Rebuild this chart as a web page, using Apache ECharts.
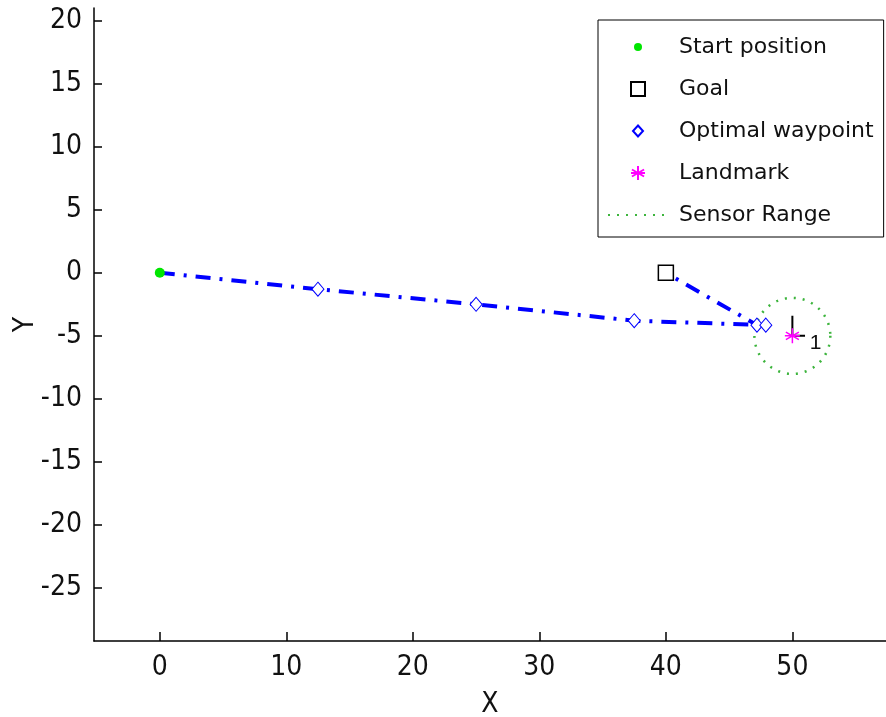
<!DOCTYPE html>
<html>
<head>
<meta charset="utf-8">
<title>Optimal waypoints</title>
<script src="https://cdn.jsdelivr.net/npm/echarts@6/dist/echarts.min.js"></script>
<style>
  html, body { margin: 0; padding: 0; background: #fff; }
  #chart { width: 886px; height: 717px; }
</style>
</head>
<body>
<div id="chart"></div>
<script>
// data
const startPos = [[0, 0]]
const goalPos = [[40, 0]]
const waypoints = [[12.5, -1.3], [25, -2.5], [37.5, -3.8], [47.2, -4.15], [47.9, -4.15]]
const pathPoints = [[0, 0], [12.5, -1.3], [25, -2.5], [37.5, -3.8], [47.9, -4.15], [47.2, -4.15], [40, 0]]
const landmarks = [[50, -5]]
const landmarkIds = ['1']
const landmarkMark = [[50, -3.4], [50, -5], [51, -5]]
const sensorRange = [[50, -5, 3]]
const xTicks = [0, 10, 20, 30, 40, 50]
const yTicks = [-25, -20, -15, -10, -5, 0, 5, 10, 15, 20]

const tickFont = "'Liberation Sans Narrow', 'DejaVu Sans Condensed', sans-serif"
const asterisk = 'path://M0,-10L0,10M-8.66,-5L8.66,5M-8.66,5L8.66,-5M-10,0L10,0'
const square = 'path://M0,0H10V10H0Z'
const diamond = 'path://M6,0L12,7L6,14L0,7Z'
// legend icons get padded so they come out smaller
const startIcon = 'path://M0,0M14,14M11,7A4,4,0,1,1,3,7A4,4,0,1,1,11,7Z'
const diamondIcon = 'path://M0,0M14,14M7,1.5L12,7L7,12.5L2,7Z'

const chart = echarts.init(document.getElementById('chart'))

chart.setOption({
  animation: false,
  grid: { left: 94, top: 8, right: 0, bottom: 76, outerBoundsMode: 'none' },
  legend: {
    data: [
      { name: 'Start position', icon: startIcon },
      { name: 'Goal' },
      { name: 'Optimal waypoint', icon: diamondIcon },
      { name: 'Landmark' },
      { name: 'Sensor Range', itemStyle: { opacity: 0 } }
    ],
    orient: 'vertical',
    left: 598,
    top: 20,
    padding: [16, 10, 11, 9],
    itemWidth: 60,
    itemHeight: 14,
    itemGap: 20,
    borderColor: '#000',
    borderWidth: 1,
    backgroundColor: '#fff',
    selectedMode: false,
    textStyle: {
      fontFamily: 'DejaVu Sans',
      fontSize: 22,
      color: '#111',
      lineHeight: 20,
      padding: [0, 0, 0, 6]
    }
  },
  xAxis: {
    type: 'value',
    min: -5.2,
    max: 57.4,
    name: 'X',
    nameLocation: 'middle',
    nameGap: 50,
    nameMoveOverlap: false,
    nameTextStyle: { fontFamily: tickFont, fontSize: 28, color: '#111' },
    axisLine: { onZero: false, lineStyle: { color: '#000', width: 1.5 } },
    axisTick: { inside: true, length: 9, customValues: xTicks, lineStyle: { color: '#000', width: 1.5 } },
    axisLabel: { customValues: xTicks, margin: 13, fontFamily: tickFont, fontSize: 28, color: '#111' },
    splitLine: { show: false }
  },
  yAxis: {
    type: 'value',
    min: -29.2,
    max: 21,
    name: 'Y',
    nameLocation: 'middle',
    nameGap: 54,
    nameMoveOverlap: false,
    nameTextStyle: { fontFamily: tickFont, fontSize: 28, color: '#111' },
    axisLine: { onZero: false, lineStyle: { color: '#000', width: 1.5 } },
    axisTick: { inside: true, length: 8, customValues: yTicks, lineStyle: { color: '#000', width: 1.5 } },
    axisLabel: { customValues: yTicks, margin: 12, fontFamily: tickFont, fontSize: 28, color: '#111' },
    splitLine: { show: false }
  },
  series: [
    {
      name: 'Sensor Range',
      type: 'line',
      data: [],
      symbol: 'circle',
      lineStyle: { color: '#3cb43c', width: 2.5, type: [2, 7] },
      itemStyle: { color: 'rgba(0,0,0,0)' }
    },
    {
      name: 'range circle',
      type: 'custom',
      data: sensorRange,
      renderItem: function (params, api) {
        const c = api.coord([api.value(0), api.value(1)])
        const r = api.size([api.value(2), 0])[0]
        return {
          type: 'circle',
          shape: { cx: c[0], cy: c[1], r: r },
          style: { fill: 'none', stroke: '#3cb43c', lineWidth: 2.5, lineDash: [2, 7] }
        }
      },
      z: 1
    },
    {
      name: 'path',
      type: 'line',
      data: pathPoints,
      symbol: 'none',
      lineStyle: { color: '#0000ff', width: 4, type: [15, 9, 3, 9] },
      z: 2
    },
    {
      name: 'landmark mark',
      type: 'line',
      data: landmarkMark,
      symbol: 'none',
      lineStyle: { color: '#000', width: 2 },
      z: 3
    },
    {
      name: 'Start position',
      type: 'scatter',
      data: startPos,
      symbol: 'circle',
      symbolSize: 10,
      itemStyle: { color: '#00e600', opacity: 1 },
      z: 5
    },
    {
      name: 'Goal',
      type: 'scatter',
      data: goalPos,
      symbol: square,
      symbolSize: 15,
      itemStyle: { color: '#fff', borderColor: '#000', borderWidth: 1.5, opacity: 1 },
      z: 5
    },
    {
      name: 'Optimal waypoint',
      type: 'scatter',
      data: waypoints,
      symbol: diamond,
      symbolSize: [12, 14],
      itemStyle: { color: '#fff', borderColor: '#0000ff', borderWidth: 1, opacity: 1 },
      z: 5
    },
    {
      name: 'Landmark',
      type: 'scatter',
      data: landmarks,
      symbol: asterisk,
      symbolSize: 15,
      itemStyle: { color: '#ff00ff', borderColor: '#ff00ff', borderWidth: 1.5, opacity: 1 },
      label: {
        show: true,
        formatter: function (p) { return landmarkIds[p.dataIndex] },
        position: 'right',
        offset: [4, 7],
        fontFamily: 'Liberation Sans',
        fontSize: 21,
        color: '#111'
      },
      z: 6
    }
  ]
})
</script>
</body>
</html>
